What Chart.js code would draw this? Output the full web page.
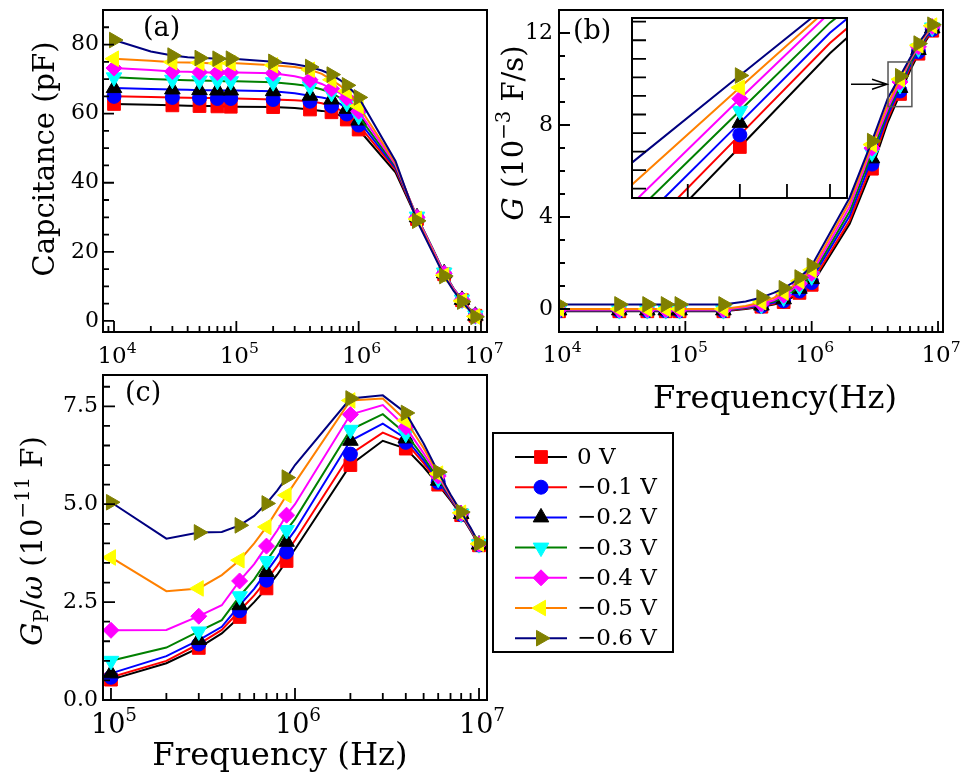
<!DOCTYPE html>
<html>
<head>
<meta charset="utf-8">
<script src="https://cdn.jsdelivr.net/npm/chart.js@4.4.0/dist/chart.umd.min.js"></script>
<style>
  html, body { margin: 0; padding: 0; background: #fff; }
  #wrap { position: relative; width: 967px; height: 780px; overflow: hidden; }
  canvas { position: absolute; }
</style>
</head>
<body>
<div id="wrap">
  <canvas id="chartA" width="510" height="390" style="left:0;top:0"></canvas>
  <canvas id="chartB" width="472" height="420" style="left:495px;top:0"></canvas>
  <canvas id="chartInset" width="240" height="200" style="left:620px;top:8px"></canvas>
  <canvas id="chartC" width="700" height="420" style="left:0;top:360px"></canvas>
</div>
<script>
const FONT = "'DejaVu Serif', 'Liberation Serif', serif";

// series (bias voltage)
const seriesLabels = ["0 V", "\u22120.1 V", "\u22120.2 V", "\u22120.3 V", "\u22120.4 V", "\u22120.5 V", "\u22120.6 V"];
const lineColors = ["#000000", "#ff0000", "#0000ff", "#008000", "#ff00ff", "#ff8000", "#000080"];
const markerColors = ["#ff0000", "#0000ff", "#000000", "#00ffff", "#ff00ff", "#ffff00", "#808000"];
const markerStyles = ["rect", "circle", "triangle", "triangle", "rectRot", "triangle", "triangle"];
const markerRotation = [0, 0, 0, 180, 0, 270, 90];
const markerRadius = [9, 7, 9, 9, 8, 9, 9];

// frequencies (Hz)
const freqAB = [1e4, 2e4, 3e4, 4e4, 5e4, 6e4, 7e4, 8e4, 9e4, 1e5, 2e5, 3e5, 4e5, 5e5, 6e5, 7e5, 8e5, 9e5,
                1e6, 2e6, 3e6, 4e6, 5e6, 6e6, 7e6, 8e6, 9e6];
const freqC = [1e5, 2e5, 3e5, 4e5, 5e5, 6e5, 7e5, 8e5, 9e5, 1e6, 2e6, 3e6, 4e6, 5e6, 6e6, 7e6, 8e6, 9e6, 1e7];

// (a) capacitance, pF
const cap0 = [62.8, 62.6, 62.4, 62.3, 62.2, 62.2, 62.1, 62.1, 62.0, 62.0, 61.9, 61.6, 61.2, 60.8, 60.4, 59.5, 58.3, 57.0, 55.4, 43.0, 29.5, 20.5, 13.5, 9.0, 6.0, 3.5, 1.5];
const cap1 = [65.0, 64.8, 64.7, 64.6, 64.5, 64.5, 64.4, 64.4, 64.4, 64.4, 64.1, 63.9, 63.6, 63.0, 62.2, 61.1, 59.9, 58.4, 56.7, 43.8, 29.8, 20.8, 13.6, 9.1, 6.0, 3.5, 1.5];
const cap2 = [67.4, 67.1, 67.0, 66.9, 66.8, 66.8, 66.7, 66.7, 66.7, 66.7, 66.5, 65.9, 65.2, 64.7, 64.1, 62.9, 61.4, 59.8, 58.0, 44.3, 30.0, 21.0, 13.8, 9.2, 6.1, 3.6, 1.5];
const cap3 = [70.5, 70.0, 69.8, 69.7, 69.6, 69.5, 69.5, 69.4, 69.4, 69.4, 69.1, 68.5, 67.9, 67.0, 66.0, 64.6, 63.1, 61.2, 59.3, 44.8, 30.2, 21.2, 14.0, 9.3, 6.2, 3.7, 1.6];
const cap4 = [73.2, 72.6, 72.2, 72.1, 72.0, 71.9, 71.9, 71.9, 71.9, 71.9, 71.7, 70.8, 69.8, 68.6, 67.2, 66.0, 64.6, 62.6, 60.7, 45.2, 30.0, 21.0, 13.8, 9.2, 6.1, 3.6, 1.5];
const cap5 = [75.9, 75.3, 74.9, 74.8, 74.7, 74.6, 74.6, 74.6, 74.6, 74.6, 74.0, 73.5, 72.7, 71.5, 69.8, 68.2, 66.5, 64.3, 62.2, 45.7, 29.5, 20.5, 13.2, 8.8, 5.8, 3.4, 1.3];
const cap6 = [81.3, 78.0, 76.8, 76.3, 76.1, 76.0, 75.9, 75.9, 75.9, 75.8, 75.0, 74.3, 73.5, 72.5, 71.3, 69.8, 68.2, 66.4, 64.7, 46.3, 29.0, 20.0, 13.0, 8.6, 5.6, 3.2, 1.2];

// (b) conductance, 1e-3 F/s
const cond0 = [-0.1, -0.1, -0.1, -0.1, -0.1, -0.1, -0.1, -0.1, -0.1, -0.1, -0.1, 0.0, 0.1, 0.2, 0.3, 0.5, 0.7, 0.88, 1.05, 3.7, 6.1, 8.12, 9.35, 10.36, 11.1, 11.65, 12.1];
const cond1 = [-0.08, -0.08, -0.08, -0.08, -0.08, -0.08, -0.08, -0.08, -0.08, -0.08, -0.08, 0.02, 0.12, 0.23, 0.35, 0.56, 0.78, 0.97, 1.15, 3.85, 6.3, 8.27, 9.48, 10.47, 11.18, 11.72, 12.15];
const cond2 = [-0.06, -0.06, -0.06, -0.06, -0.06, -0.06, -0.06, -0.06, -0.06, -0.06, -0.06, 0.04, 0.15, 0.27, 0.42, 0.64, 0.88, 1.08, 1.3, 4.05, 6.55, 8.43, 9.61, 10.58, 11.26, 11.78, 12.2];
const cond3 = [-0.05, -0.05, -0.05, -0.05, -0.05, -0.05, -0.05, -0.05, -0.05, -0.05, -0.05, 0.06, 0.18, 0.32, 0.5, 0.73, 0.98, 1.2, 1.42, 4.25, 6.8, 8.58, 9.74, 10.69, 11.33, 11.84, 12.24];
const cond4 = [-0.03, -0.03, -0.03, -0.03, -0.03, -0.03, -0.03, -0.03, -0.03, -0.03, -0.03, 0.09, 0.22, 0.38, 0.6, 0.84, 1.1, 1.32, 1.55, 4.45, 7.0, 8.71, 9.87, 10.8, 11.4, 11.9, 12.28];
const cond5 = [0.0, 0.0, 0.0, 0.0, 0.0, 0.0, 0.0, 0.0, 0.0, 0.0, 0.0, 0.13, 0.3, 0.48, 0.72, 0.97, 1.22, 1.46, 1.7, 4.65, 7.15, 8.92, 9.99, 10.86, 11.47, 11.95, 12.32];
const cond6 = [0.2, 0.2, 0.2, 0.2, 0.2, 0.2, 0.2, 0.2, 0.2, 0.2, 0.2, 0.33, 0.5, 0.7, 0.9, 1.13, 1.37, 1.62, 1.88, 4.85, 7.3, 9.16, 10.12, 10.9, 11.54, 12.0, 12.36];

// (c) Gp/omega, 1e-11 F
const gpw0 = [0.52, 0.94, 1.33, 1.7, 2.12, 2.5, 2.85, 3.2, 3.55, 3.85, 6.0, 6.62, 6.42, 5.95, 5.5, 5.1, 4.72, 4.32, 3.95];
const gpw1 = [0.58, 1.0, 1.43, 1.79, 2.28, 2.67, 3.06, 3.42, 3.78, 4.08, 6.28, 6.83, 6.58, 6.05, 5.56, 5.13, 4.74, 4.34, 3.96];
const gpw2 = [0.68, 1.12, 1.53, 1.87, 2.42, 2.84, 3.27, 3.65, 4.04, 4.33, 6.62, 7.06, 6.68, 6.12, 5.6, 5.15, 4.75, 4.35, 3.97];
const gpw3 = [1.0, 1.34, 1.75, 2.04, 2.65, 3.08, 3.55, 3.95, 4.34, 4.62, 6.9, 7.3, 6.8, 6.2, 5.65, 5.18, 4.76, 4.36, 3.98];
const gpw4 = [1.78, 1.79, 2.14, 2.42, 3.04, 3.47, 3.93, 4.33, 4.72, 5.0, 7.29, 7.53, 6.97, 6.3, 5.72, 5.2, 4.77, 4.37, 3.98];
const gpw5 = [3.64, 2.78, 2.85, 3.19, 3.57, 4.0, 4.42, 4.85, 5.23, 5.55, 7.65, 7.7, 7.14, 6.43, 5.78, 5.22, 4.78, 4.38, 3.99];
const gpw6 = [5.05, 4.12, 4.28, 4.29, 4.46, 4.7, 5.02, 5.35, 5.68, 6.0, 7.7, 7.78, 7.33, 6.55, 5.82, 5.25, 4.8, 4.4, 4.0];

// axis ranges and tick labels
const rangeAx = [8128, 1.12e7], rangeAy = [-3.2, 90];
const rangeBx = [1e4, 1.095e7], rangeBy = [-1, 13];
const rangeCx = [9.05e4, 1.105e7], rangeCy = [0, 8.3];
const insetX = [4.02e6, 6.21e6], insetY = [8.80, 10.74];
const xLabelsAB = [1e4, 1e5, 1e6, 1e7];
const xLabelsC = [1e5, 1e6, 1e7];
const yLabelsA = [0, 20, 40, 60, 80];
const yLabelsB = [0, 4, 8, 12];
const yLabelsC = [0, 2.5, 5, 7.5];
const insetXTicks = [4.5e6, 5e6, 5.5e6, 6e6];
const insetYTicks = [8.9, 9.1, 9.3, 9.5, 9.7, 9.9, 10.1, 10.3, 10.5, 10.7];

// ---------- helpers ----------
function partFont(p, size) {
  const s = (p.sup || p.sub) ? size * 0.68 : size;
  return (p.it ? "italic " : "") + s.toFixed(1) + "px " + FONT;
}
function richWidth(ctx, parts, size) {
  let w = 0;
  parts.forEach(p => { ctx.font = partFont(p, size); w += ctx.measureText(p.t).width; });
  return w;
}
function drawRich(ctx, parts, x, y, size, rot, align) {
  const w = richWidth(ctx, parts, size);
  ctx.save();
  ctx.translate(x, y);
  if (rot) ctx.rotate(-Math.PI / 2);
  ctx.fillStyle = "#000";
  ctx.textBaseline = "alphabetic";
  ctx.textAlign = "left";
  let cx = align === "left" ? 0 : -w / 2;
  parts.forEach(p => {
    ctx.font = partFont(p, size);
    const dy = p.sup ? -size * 0.45 : (p.sub ? size * 0.22 : 0);
    ctx.fillText(p.t, cx, dy);
    cx += ctx.measureText(p.t).width;
  });
  ctx.restore();
}

function logTicks(min, max) {
  const out = [];
  for (let e = Math.floor(Math.log10(min)); e <= Math.ceil(Math.log10(max)); e++) {
    for (let m = 1; m <= 9; m++) {
      const v = m * Math.pow(10, e);
      if (v >= min && v <= max) out.push({ v, major: m === 1 });
    }
  }
  return out;
}
function stepTicks(min, max, step, major) {
  const out = [];
  for (let k = Math.ceil(min / step - 1e-9); k * step <= max + 1e-9; k++) {
    const v = k * step;
    out.push({ v, major: Math.abs(v / major - Math.round(v / major)) < 1e-6 });
  }
  return out;
}

// frame + inward ticks
function framePlugin(cfg) {
  return {
    id: "frame",
    beforeDatasetsDraw(chart) {
      if (!cfg.fill) return;
      const a = chart.chartArea, ctx = chart.ctx;
      ctx.save();
      ctx.fillStyle = cfg.fill;
      ctx.fillRect(a.left, a.top, a.right - a.left, a.bottom - a.top);
      ctx.restore();
    },
    afterDatasetsDraw(chart) {
      const { ctx, chartArea: a } = chart;
      const xs = chart.scales.x, ys = chart.scales.y;
      const xt = cfg.xList ? cfg.xList.map(v => ({ v, major: true })) : logTicks(xs.min, xs.max);
      const yt = cfg.yList ? cfg.yList.map(v => ({ v, major: true })) : stepTicks(ys.min, ys.max, cfg.yStep, cfg.yMajor);
      ctx.save();
      ctx.strokeStyle = "#000";
      ctx.lineWidth = 1.8;
      ctx.beginPath();
      xt.forEach(t => {
        const px = xs.getPixelForValue(t.v);
        if (px < a.left + 1.5 || px > a.right - 1.5) return;
        ctx.moveTo(px, a.bottom);
        ctx.lineTo(px, a.bottom - (t.major ? cfg.major : cfg.minor));
      });
      yt.forEach(t => {
        const py = ys.getPixelForValue(t.v);
        if (py < a.top + 1.5 || py > a.bottom - 1.5) return;
        ctx.moveTo(a.left, py);
        ctx.lineTo(a.left + (t.major ? cfg.major : cfg.minor), py);
      });
      ctx.stroke();
      ctx.lineWidth = 2;
      ctx.strokeRect(a.left, a.top, a.right - a.left, a.bottom - a.top);
      ctx.restore();
    }
  };
}

// tick labels 10^n, axis titles, panel letters
function textPlugin(cfg) {
  return {
    id: "texts",
    afterDraw(chart) {
      const { ctx, chartArea: a } = chart;
      const xs = chart.scales.x;
      (cfg.xLabels || []).forEach(v => {
        const e = Math.round(Math.log10(v));
        drawRich(ctx, [{ t: "10" }, { t: String(e), sup: true }], xs.getPixelForValue(v) + 3, a.bottom + cfg.xLabelDy, cfg.xLabelSize);
      });
      (cfg.items || []).forEach(it => {
        let size = it.size;
        if (it.fit) size = size * it.fit / richWidth(ctx, it.parts, size);
        drawRich(ctx, it.parts, a.left + it.dx, a.top + it.dy, size, it.rot, it.align);
      });
    }
  };
}

function makeSets(xs, series) {
  return series.map((vals, i) => ({
    label: seriesLabels[i],
    data: xs.map((f, j) => ({ x: f, y: vals[j] })),
    borderColor: lineColors[i],
    backgroundColor: markerColors[i],
    borderWidth: 2,
    tension: 0,
    fill: false,
    pointStyle: markerStyles[i],
    pointRotation: markerRotation[i],
    pointBackgroundColor: markerColors[i],
    pointBorderColor: markerColors[i],
    pointBorderWidth: 1,
    pointRadius: c => (c.dataIndex % 2 ? 0 : markerRadius[i]),
    order: series.length - 1 - i
  }));
}

function makeOptions(o) {
  return {
    responsive: false,
    animation: false,
    devicePixelRatio: 1,
    events: [],
    layout: { padding: o.pad },
    plugins: { legend: { display: false }, tooltip: { enabled: false } },
    scales: {
      x: {
        type: "logarithmic", min: o.x[0], max: o.x[1],
        grid: { display: false, drawTicks: false }, border: { display: false },
        ticks: { display: false },
        afterFit: s => { s.height = o.xh; s.paddingLeft = 0; s.paddingRight = 0; }
      },
      y: {
        type: "linear", min: o.y[0], max: o.y[1],
        grid: { display: false, drawTicks: false }, border: { display: false },
        ticks: {
          display: !!o.yLabels, color: "#000", padding: o.yPad || 4,
          font: { family: FONT, size: 22 },
          callback: o.yFmt || (v => String(v))
        },
        afterBuildTicks: s => { if (o.yLabels) s.ticks = o.yLabels.map(v => ({ value: v })); },
        afterFit: s => { s.width = o.yw; s.paddingTop = 0; s.paddingBottom = 0; }
      }
    }
  };
}

// ---------- (a) ----------
new Chart(document.getElementById("chartA"), {
  type: "line",
  data: { datasets: makeSets(freqAB, [cap0, cap1, cap2, cap3, cap4, cap5, cap6]) },
  options: makeOptions({ pad: { top: 8, right: 23, left: 0, bottom: 0 }, x: rangeAx, y: rangeAy, xh: 58, yw: 103, yLabels: yLabelsA, yPad: 4 }),
  plugins: [
    framePlugin({ yStep: 5, yMajor: 20, major: 11, minor: 6 }),
    textPlugin({
      xLabels: xLabelsAB, xLabelDy: 31, xLabelSize: 23,
      items: [
        { parts: [{ t: "Capcitance (pF)" }], dx: -49, dy: 149, size: 29, rot: true },
        { parts: [{ t: "(a)" }], dx: 40, dy: 26, size: 27, align: "left" }
      ]
    })
  ]
});

// ---------- (b) ----------
new Chart(document.getElementById("chartB"), {
  type: "line",
  data: { datasets: makeSets(freqAB, [cond0, cond1, cond2, cond3, cond4, cond5, cond6]) },
  options: makeOptions({ pad: { top: 8, right: 24, left: 0, bottom: 0 }, x: rangeBx, y: rangeBy, xh: 88, yw: 64, yLabels: yLabelsB, yPad: 6 }),
  plugins: [
    framePlugin({ yStep: 1, yMajor: 4, major: 11, minor: 6 }),
    textPlugin({
      xLabels: xLabelsAB, xLabelDy: 30, xLabelSize: 23,
      items: [
        { parts: [{ t: "G", it: true }, { t: " (10" }, { t: "\u22123", sup: true }, { t: " F/s)" }], dx: -36, dy: 123, size: 29, rot: true },
        { parts: [{ t: "Frequency(Hz)" }], dx: 216, dy: 398, size: 30, fit: 244 },
        { parts: [{ t: "(b)" }], dx: 14, dy: 29, size: 27, align: "left" }
      ]
    }),
    {
      id: "zoomBox",
      afterDraw(chart) {
        const { ctx } = chart;
        const xs = chart.scales.x, ys = chart.scales.y;
        const l = xs.getPixelForValue(insetX[0]), r = xs.getPixelForValue(insetX[1]);
        const t = ys.getPixelForValue(insetY[1]), b = ys.getPixelForValue(insetY[0]);
        const my = (t + b) / 2;
        ctx.save();
        ctx.strokeStyle = "#555";
        ctx.lineWidth = 1.5;
        ctx.strokeRect(l, t, r - l, b - t);
        ctx.strokeStyle = "#000";
        ctx.beginPath();
        ctx.moveTo(l - 37, my); ctx.lineTo(l - 1, my);
        ctx.moveTo(l - 16, my - 5); ctx.lineTo(l - 1, my); ctx.lineTo(l - 16, my + 5);
        ctx.stroke();
        ctx.restore();
      }
    }
  ]
});

// ---------- inset of (b) ----------
new Chart(document.getElementById("chartInset"), {
  type: "line",
  data: { datasets: makeSets(freqAB, [cond0, cond1, cond2, cond3, cond4, cond5, cond6]) },
  options: makeOptions({ pad: { top: 6, right: 13, left: 0, bottom: 0 }, x: insetX, y: insetY, xh: 10, yw: 12, yLabels: null }),
  plugins: [framePlugin({ fill: "#fff", xList: insetXTicks, yList: insetYTicks, major: 14, minor: 14 })]
});

// ---------- (c) ----------
new Chart(document.getElementById("chartC"), {
  type: "line",
  data: { datasets: makeSets(freqC, [gpw0, gpw1, gpw2, gpw3, gpw4, gpw5, gpw6]) },
  options: makeOptions({ pad: { top: 15, right: 213, left: 0, bottom: 0 }, x: rangeCx, y: rangeCy, xh: 80, yw: 103, yLabels: yLabelsC, yPad: 5, yFmt: v => v.toFixed(1) }),
  plugins: [
    framePlugin({ yStep: 0.5, yMajor: 2.5, major: 12, minor: 7 }),
    textPlugin({
      xLabels: xLabelsC, xLabelDy: 33, xLabelSize: 27,
      items: [
        { parts: [{ t: "G", it: true }, { t: "P", sub: true }, { t: "/" }, { t: "\u03c9", it: true }, { t: " (10" }, { t: "\u221211", sup: true }, { t: " F)" }], dx: -61, dy: 166, size: 29, rot: true },
        { parts: [{ t: "Frequency (Hz)" }], dx: 177, dy: 390, size: 30, fit: 255 },
        { parts: [{ t: "(c)" }], dx: 22, dy: 26, size: 27, align: "left" }
      ]
    }),
    {
      id: "boxLegend",
      afterDraw(chart) {
        const { ctx, chartArea: a } = chart;
        const x0 = a.right + 6, y0 = a.top + 58, w = 180, h = 219;
        ctx.save();
        ctx.strokeStyle = "#000";
        ctx.lineWidth = 2;
        ctx.strokeRect(x0, y0, w, h);
        chart.data.datasets.forEach((ds, i) => {
          const cy = y0 + 24 + i * 30.2;
          ctx.strokeStyle = ds.borderColor;
          ctx.lineWidth = 2;
          ctx.beginPath();
          ctx.moveTo(x0 + 22, cy); ctx.lineTo(x0 + 74, cy);
          ctx.stroke();
          ctx.fillStyle = markerColors[i];
          ctx.strokeStyle = markerColors[i];
          ctx.lineWidth = 1;
          Chart.helpers.drawPoint(ctx, { pointStyle: markerStyles[i], rotation: markerRotation[i], radius: markerRadius[i], borderWidth: 1 }, x0 + 48, cy);
          ctx.fillStyle = "#000";
          ctx.font = "23px " + FONT;
          ctx.textAlign = "left";
          ctx.textBaseline = "alphabetic";
          ctx.fillText(ds.label, x0 + 84, cy + 7);
        });
        ctx.restore();
      }
    }
  ]
});
</script>
</body>
</html>
